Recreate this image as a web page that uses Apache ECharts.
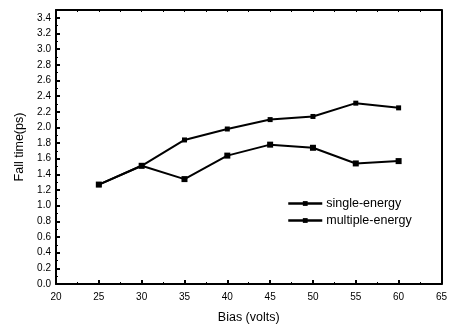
<!DOCTYPE html>
<html><head><meta charset="utf-8">
<script src="https://cdn.jsdelivr.net/npm/echarts@6/dist/echarts.min.js"></script>
<style>html,body{margin:0;padding:0;background:#fff}#c{width:450px;height:329px}</style>
</head><body><div id="c"></div>
<script>
var bias = [25, 30, 35, 40, 45, 50, 55, 60];
var singleEnergy = [1.27, 1.51, 1.84, 1.98, 2.10, 2.14, 2.31, 2.25];
var multipleEnergy = [1.27, 1.51, 1.34, 1.64, 1.78, 1.74, 1.54, 1.57];
var seriesNames = ['single-energy', 'multiple-energy'];

function pairs(xs, ys){ return xs.map(function(x,i){ return [x, ys[i]]; }); }
var font = 'Liberation Sans, Arial, sans-serif';
var chart = echarts.init(document.getElementById('c'));
chart.setOption({
  animation: false,
  grid: {left: 56, right: 5, top: 10, bottom: 44},
  legend: {
    left: 282, top: 192, orient: 'vertical', itemGap: 4,
    itemWidth: 34, itemHeight: 6,
    lineStyle: {width: 2.5},
    textStyle: {fontFamily: font, fontSize: 12.5, color: '#000', padding: [0, 0, 0, -1]},
    data: seriesNames
  },
  xAxis: [{
    type: 'value', min: 20, max: 65, interval: 5,
    name: 'Bias (volts)', nameLocation: 'middle', nameGap: 27,
    nameTextStyle: {fontFamily: font, fontSize: 12.5, color: '#000'},
    axisLine: {onZero: false, lineStyle: {color: '#000', width: 2}},
    axisTick: {inside: true, length: 4, lineStyle: {color: '#000', width: 2}},
    minorTick: {show: true, splitNumber: 2, length: 2, lineStyle: {color: '#000', width: 1}},
    axisLabel: {fontFamily: font, fontSize: 10, color: '#000', margin: 8},
    splitLine: {show: false}
  }, {
    type: 'value', min: 20, max: 65, interval: 5, position: 'top',
    axisLine: {show: true, onZero: false, lineStyle: {color: '#000', width: 2}},
    axisTick: {inside: true, length: 2, lineStyle: {color: '#000', width: 1}},
    minorTick: {show: true, splitNumber: 2, length: 2, lineStyle: {color: '#000', width: 1}},
    axisLabel: {show: false}, splitLine: {show: false}
  }],
  yAxis: [{
    type: 'value', min: 0, max: 3.5, interval: 0.2,
    name: 'Fall time(ps)', nameLocation: 'middle', nameGap: 30,
    nameTextStyle: {fontFamily: font, fontSize: 12.5, color: '#000'},
    axisLine: {show: true, onZero: false, lineStyle: {color: '#000', width: 2}},
    axisTick: {show: true, inside: true, length: 4, lineStyle: {color: '#000', width: 2}},
    minorTick: {show: true, splitNumber: 2, length: 2, lineStyle: {color: '#000', width: 1}},
    axisLabel: {fontFamily: font, fontSize: 10, color: '#000', margin: 5, showMaxLabel: false,
      formatter: function(v){ return v.toFixed(1); }},
    splitLine: {show: false}
  }, {
    type: 'value', min: 0, max: 3.5, position: 'right',
    axisLine: {show: true, onZero: false, lineStyle: {color: '#000', width: 2}},
    axisTick: {show: false}, axisLabel: {show: false}, splitLine: {show: false}
  }],
  series: [{
    name: seriesNames[0], type: 'line', data: pairs(bias, singleEnergy),
    symbol: 'rect', symbolSize: 5, showAllSymbol: true,
    lineStyle: {color: '#000', width: 2}, itemStyle: {color: '#000'}
  }, {
    name: seriesNames[1], type: 'line', data: pairs(bias, multipleEnergy),
    symbol: 'rect', symbolSize: 6, showAllSymbol: true,
    lineStyle: {color: '#000', width: 2}, itemStyle: {color: '#000'}
  }]
});
</script></body></html>
